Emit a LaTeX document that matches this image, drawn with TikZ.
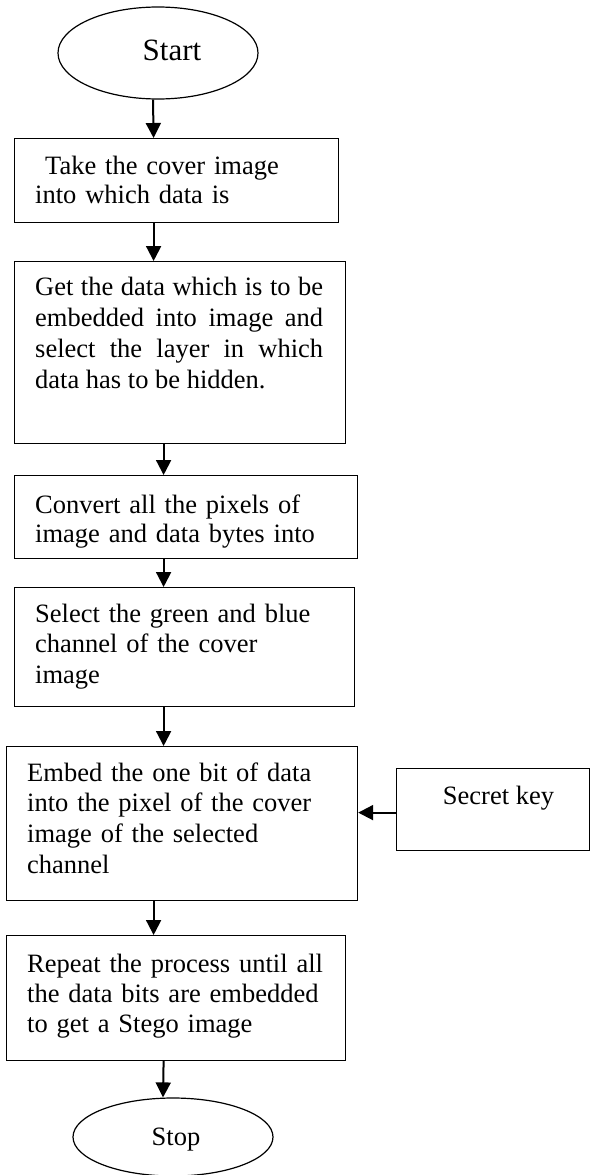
\documentclass[tikz,border=0pt]{standalone}
\usepackage{fontspec}
\setmainfont{Liberation Serif}
\usetikzlibrary{shapes.geometric,arrows.meta}
\tikzset{
  boxshape/.style={draw, line width=1.2pt, rectangle, inner sep=0pt},
  ovalshape/.style={draw, line width=1.2pt, ellipse, inner sep=0pt},
  arr/.style={line width=2pt, -{Triangle[length=15pt,width=15pt]}},
  txt/.style={anchor=base west, inner sep=0pt, text width=#1, align=left},
  lbl/.style={anchor=base, inner sep=0pt},
  body/.style={font=\fontsize{26.5}{#1}\selectfont}
}
\begin{document}
\begin{tikzpicture}[x=1pt,y=-1pt]
\useasboundingbox (0,0) rectangle (590,1175);
% shapes
\node[ovalshape, minimum width=200pt, minimum height=92pt] (start) at (158,53) {};
\node[boxshape, minimum width=324pt, minimum height=84pt, anchor=north west] (b1) at (14,138) {};
\node[boxshape, minimum width=331pt, minimum height=182pt, anchor=north west] (b2) at (14,261) {};
\node[boxshape, minimum width=343pt, minimum height=83pt, anchor=north west] (b3) at (14,475) {};
\node[boxshape, minimum width=340pt, minimum height=119pt, anchor=north west] (b4) at (14,587) {};
\node[boxshape, minimum width=351pt, minimum height=154pt, anchor=north west] (b5) at (6,746) {};
\node[boxshape, minimum width=193pt, minimum height=82pt, anchor=north west] (key) at (396,768) {};
\node[boxshape, minimum width=339pt, minimum height=125pt, anchor=north west] (b6) at (6,935) {};
\node[ovalshape, minimum width=200pt, minimum height=78pt] (stop) at (173,1137) {};
% texts
\node[lbl, font=\fontsize{31}{36}\selectfont] (tstart) at (172,60) {Start};
\node[txt=303pt, body=29] (t1) at (35,174) {\hspace*{10pt}Take the cover image\\into which data is};
\node[anchor=base west, inner sep=0pt, text width=288pt, align=justify, body=31] (t2) at (35,295)
  {Get the data which is to be\linebreak embedded into image and\linebreak select the layer in which\linebreak data has to be hidden.};
\node[txt=320pt, body=29] (t3) at (35,513) {Convert all the pixels of\\image and data bytes into};
\node[txt=315pt, body=30.5] (t4) at (35,622) {Select the green and blue\\channel of the cover\\image};
\node[txt=325pt, body=30.7] (t5) at (27,781) {Embed the one bit of data\\into the pixel of the cover\\image of the selected\\channel};
\node[lbl, body=30] (tkey) at (498.5,804) {Secret key};
\node[txt=315pt, body=30] (t6) at (27,972) {Repeat the process until all\\the data bits are embedded\\to get a Stego image};
\node[lbl, body=30] (tstop) at (176,1145) {Stop};
% connectors
\draw[arr] ([xshift=-5pt]start.south) -- ([xshift=-23pt]b1.north);
\draw[arr] ([xshift=-23pt]b1.south) -- ([xshift=-26.5pt]b2.north);
\draw[arr] ([xshift=-16.5pt]b2.south) -- ([xshift=-22.5pt]b3.north);
\draw[arr] ([xshift=-22.5pt]b3.south) -- ([xshift=-21pt]b4.north);
\draw[arr] ([xshift=-21pt]b4.south) -- ([xshift=-18.5pt]b5.north);
\draw[arr] ([xshift=-28.5pt]b5.south) -- ([xshift=-22.5pt]b6.north);
\draw[arr] ([xshift=-12.5pt]b6.south) -- ([xshift=-10pt]stop.north);
\coordinate (ka) at ([yshift=-3pt]key.west);
\draw[arr] (ka) -- (ka -| b5.east);
\end{tikzpicture}
\end{document}
